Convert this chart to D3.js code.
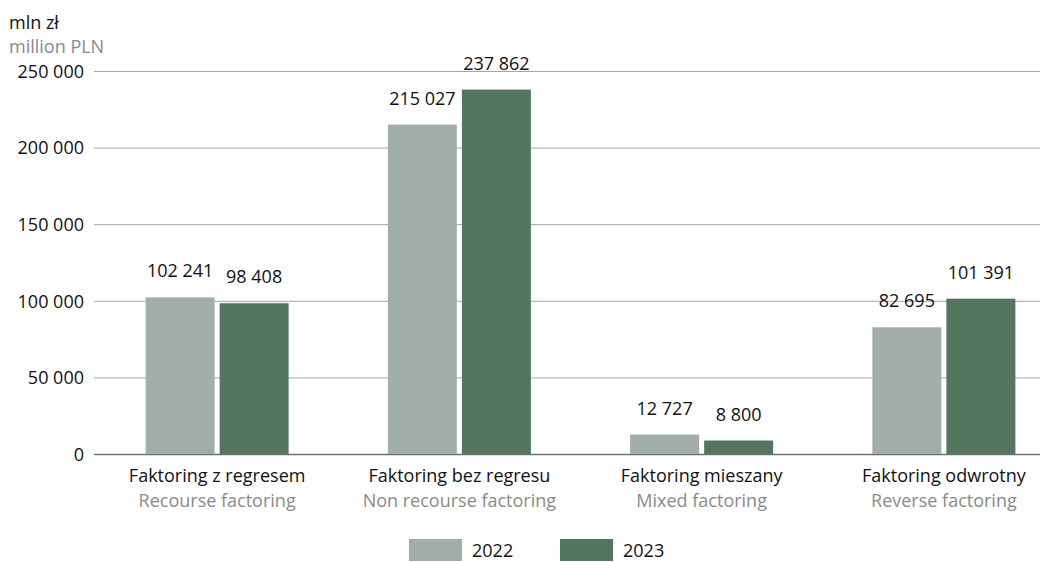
<!DOCTYPE html>
<html>
<head>
<meta charset="utf-8">
<script src="https://cdn.jsdelivr.net/npm/d3@7"></script>
<style>
  html, body { margin: 0; padding: 0; background: #fff; }
  svg { display: block; font-family: "Open Sans", "Noto Sans", sans-serif; }
</style>
</head>
<body>
<svg id="chart" width="1053" height="562"></svg>
<script>
// Factoring turnover by type, million PLN
const categoriesPl = ["Faktoring z regresem", "Faktoring bez regresu", "Faktoring mieszany", "Faktoring odwrotny"];
const categoriesEn = ["Recourse factoring", "Non recourse factoring", "Mixed factoring", "Reverse factoring"];
const years = ["2022", "2023"];
const values2022 = [102241, 215027, 12727, 82695];
const values2023 = [98408, 237862, 8800, 101391];
const yTicks = [0, 50000, 100000, 150000, 200000, 250000];
const colors = ["#a1aea7", "#547661"];

const svg = d3.select("#chart");
const FS = 18;
const plotLeft = 94, plotRight = 1040, yTop = 71, yBase = 454;

const fmtSpace = v => d3.format(",")(v).replace(/,/g, " ");

const y = d3.scaleLinear().domain([0, 250000]).range([yBase, yTop]);
const x0 = d3.scaleBand().domain(categoriesPl).range([96, 1065]).paddingInner(0).paddingOuter(0);
const x1 = d3.scaleBand().domain(years).range([-71.5, 71.5]).paddingInner(0.068);

// horizontal grid lines
const gGrid = svg.append("g");
gGrid.selectAll("line").data(yTicks).join("line")
  .attr("x1", plotLeft).attr("x2", plotRight)
  .attr("y1", d => y(d) + 0.5).attr("y2", d => y(d) + 0.5)
  .attr("stroke", d => d === 0 ? "#6f6f6f" : "#a6a6a6")
  .attr("stroke-width", d => d === 0 ? 1.3 : 1);

// value axis labels
const yAxis = d3.axisLeft(y).tickValues(yTicks).tickSize(0).tickFormat(fmtSpace);
const gAxis = svg.append("g").attr("transform", `translate(${plotLeft - 10},0)`).call(yAxis);
gAxis.select(".domain").remove();
gAxis.selectAll("text").attr("font-size", FS).attr("fill", "#111")
  .attr("font-family", "Open Sans, sans-serif").attr("dy", "0.35em").attr("x", 0);

// unit labels
svg.append("text").attr("x", 9).attr("y", 29).attr("font-size", FS).attr("fill", "#111").text("mln zł");
svg.append("text").attr("x", 9).attr("y", 53).attr("font-size", FS).attr("fill", "#8a8a8a").text("million PLN");

// bars
const rows = categoriesPl.map((c, i) => ({ cat: c, vals: [values2022[i], values2023[i]] }));
const groups = svg.append("g").selectAll("g").data(rows).join("g")
  .attr("transform", d => `translate(${x0(d.cat) + x0.bandwidth() / 2},0)`);

groups.selectAll("rect").data(d => d.vals.map((v, j) => ({ year: years[j], v, j }))).join("rect")
  .attr("x", d => x1(d.year))
  .attr("width", x1.bandwidth())
  .attr("y", d => y(d.v))
  .attr("height", d => yBase - y(d.v))
  .attr("fill", d => colors[d.j]);

// value labels above bars
groups.selectAll("text.val").data(d => d.vals.map((v, j) => ({ year: years[j], v, j }))).join("text")
  .attr("class", "val")
  .attr("x", d => x1(d.year) + x1.bandwidth() / 2)
  .attr("y", d => y(d.v) - 20)
  .attr("text-anchor", "middle")
  .attr("font-size", FS).attr("fill", "#111")
  .text(d => fmtSpace(d.v));

// category labels (Polish / English)
groups.append("text").attr("y", 482).attr("text-anchor", "middle").attr("font-size", FS).attr("fill", "#111")
  .text(d => d.cat);
groups.append("text").attr("y", 507).attr("text-anchor", "middle").attr("font-size", FS).attr("fill", "#8a8a8a")
  .text((d, i) => categoriesEn[i]);

// legend
const legend = svg.append("g").selectAll("g").data(years).join("g")
  .attr("transform", (d, i) => `translate(${409 + i * 151},539)`);
legend.append("rect").attr("width", 53).attr("height", 22).attr("fill", (d, i) => colors[i]);
legend.append("text").attr("x", 63).attr("y", 18).attr("font-size", FS).attr("fill", "#111").text(d => d);
</script>
</body>
</html>
